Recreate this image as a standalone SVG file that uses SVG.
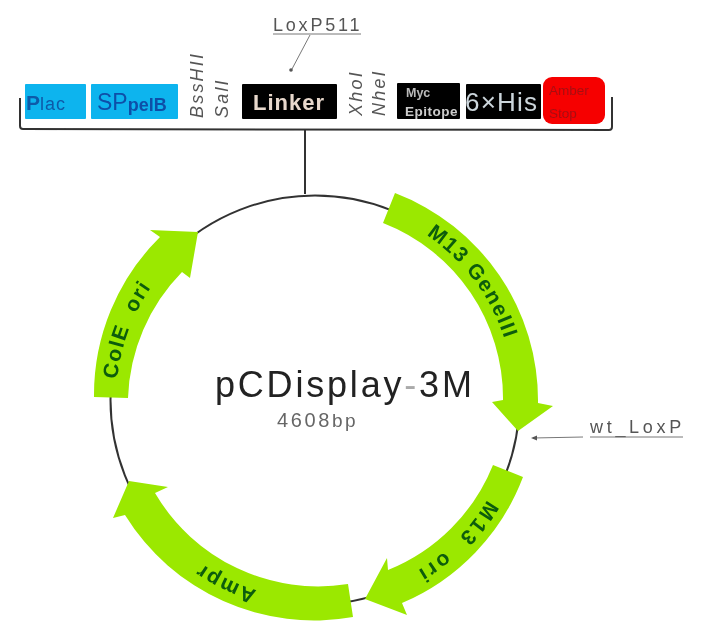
<svg xmlns="http://www.w3.org/2000/svg" width="708" height="637" viewBox="0 0 708 637">
<style>
text{font-family:"Liberation Sans",Arial,sans-serif}
.gene{fill:#9be806}
.gl{font-size:21px;fill:#0a5c08;font-weight:bold}
.blue{fill:#08b4ee}
.blk{fill:#050505}
.site{font-size:18px;font-style:italic;fill:#555;letter-spacing:2.2px}
.ln{fill:none;stroke:#333;stroke-width:2}
.thin{fill:none;stroke:#777;stroke-width:1}
.lab{font-size:18px;fill:#555;letter-spacing:2.800px}
.lab2{font-size:18px;fill:#555;letter-spacing:3.700px}
</style>
<defs>
<filter id="soft" x="-5%" y="-5%" width="110%" height="110%"><feGaussianBlur stdDeviation="0.7"/></filter>
<path id="p1" d="M426.300 235A199 199 0 0 1 511 365.400"/>
<path id="p2" d="M487.300 499.500A199 199 0 0 1 399.100 580.400"/>
<path id="p3" d="M256.900 590.300A199 199 0 0 1 174.300 540.700"/>
<path id="p4" d="M117.100 379.200A199 199 0 0 1 187.100 247.600"/>
</defs>
<rect width="708" height="637" fill="#fff"/>
<g filter="url(#soft)">
<g id="connectors">
<circle class="ln" cx="315" cy="400" r="204.500"/>
<path class="ln" d="M305 130V194"/>
<path class="ln" d="M20 98V126Q20 129 23 129L609 130Q612 130 612 127V97"/>
<path class="thin" d="M310 35L292 69"/>
<circle cx="291" cy="70" r="1.800" fill="#555"/>
<path class="thin" d="M583 437L533 438"/>
<path d="M531 438L537 435.500V440.500Z" fill="#555"/>
</g>
<g id="gene-m13-geneiii">
<path class="gene" d="M395 193A222 222 0 0 1 538 403L553 406L518 431L492 402L503 400A188 188 0 0 0 383 223Z"/>
<text class="gl" letter-spacing="1.500"><textPath href="#p1">M13 GeneIII</textPath></text>
</g>
<g id="gene-m13-ori">
<path class="gene" d="M523 477A222 222 0 0 1 402 603L407 615L365 599L387 558L388 570A189 189 0 0 0 493 465Z"/>
<text class="gl" letter-spacing="3" xml:space="preserve"><textPath href="#p2">M13  ori</textPath></text>
</g>
<g id="gene-ampr">
<path class="gene" d="M353 617A222 222 0 0 1 125 515L113 518L129 481L168 487L155 493A189 189 0 0 0 348 584Z"/>
<text class="gl" letter-spacing="2"><textPath href="#p3">Ampr</textPath></text>
</g>
<g id="gene-cole-ori">
<path class="gene" d="M94 397A222 222 0 0 1 160 237L150 230L198 232L190 278L182 272A189 189 0 0 0 128 398Z"/>
<text class="gl" letter-spacing="1.500" xml:space="preserve"><textPath href="#p4">ColE  ori</textPath></text>
</g>
<g id="title">
<text x="215" y="397" font-size="36" fill="#222" letter-spacing="2.800">pCDisplay<tspan fill="#aaa">-</tspan>3M</text>
<text x="277" y="427" font-size="20" fill="#666" letter-spacing="2.600">4608<tspan font-size="19">bp</tspan></text>
</g>
<g id="plac"><rect class="blue" x="25" y="84" width="61" height="35" rx="1"/><text x="26" y="110" font-size="21" font-weight="bold" fill="#0a5aa8">P<tspan font-size="18" font-weight="normal" letter-spacing="1">lac</tspan></text></g>
<g id="sppelb"><rect class="blue" x="91" y="84" width="87" height="35" rx="1"/><text x="97" y="110" font-size="23" fill="#0a4fa8">SP<tspan font-size="18" dy="1" font-weight="bold">pelB</tspan></text></g>
<g id="bsshii"><text class="site" transform="translate(203 118) rotate(-90)">BssHII</text></g>
<g id="sali"><text class="site" transform="translate(228 118) rotate(-90)">SalI</text></g>
<g id="linker"><rect class="blk" x="242" y="84" width="95" height="35" rx="1"/><text x="253" y="110" font-size="22" font-weight="bold" fill="#e8d8cc" letter-spacing="1">Linker</text></g>
<g id="xhoi"><text class="site" transform="translate(362 116) rotate(-90)">XhoI</text></g>
<g id="nhei"><text class="site" transform="translate(385 116) rotate(-90)">NheI</text></g>
<g id="myc"><rect class="blk" x="397" y="83" width="63" height="36" rx="1"/><text x="406" y="97" font-size="12.500" font-weight="bold" fill="#bbb">Myc</text><text x="405" y="116" font-size="13.500" font-weight="bold" fill="#ccc" letter-spacing="0.500">Epitope</text></g>
<g id="his"><rect class="blk" x="466" y="84" width="75" height="35" rx="1"/><text x="465" y="111" font-size="26" fill="#ccd6dc" letter-spacing="1.200">6×His</text></g>
<g id="amber"><rect x="543" y="77" width="62" height="47" rx="9" fill="#f60404"/><text x="549" y="95" font-size="13.500" fill="#a80a10">Amber</text><text x="549" y="118" font-size="13.500" fill="#a80a10">Stop</text></g>
<g id="loxp511"><text class="lab" x="273" y="31">LoxP511</text><path class="thin" d="M273 34H361"/></g>
<g id="wt-loxp"><text class="lab2" x="590" y="433">wt_LoxP</text><path class="thin" d="M590 437H683"/></g>
</g>
</svg>
